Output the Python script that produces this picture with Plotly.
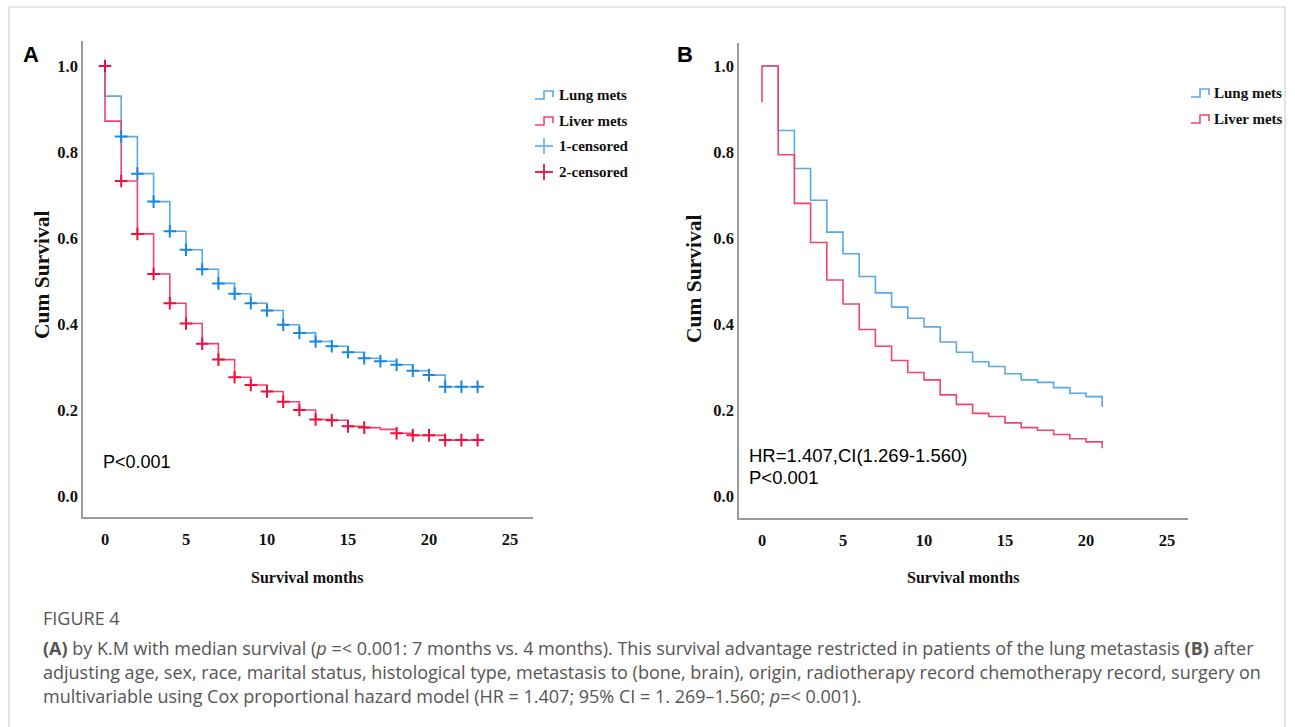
import plotly.graph_objects as go

W, H = 1295, 727

# ---------------- data ----------------
# Panel A (Kaplan-Meier): survival value after each month's events
A_months = list(range(0, 24))
A_lung = [0.930, 0.836, 0.750, 0.685, 0.616, 0.573, 0.528, 0.495, 0.471, 0.449,
          0.432, 0.399, 0.380, 0.360, 0.349, 0.335, 0.321, 0.314, 0.306, 0.292,
          0.282, 0.255, 0.255, 0.255]
A_liver = [0.872, 0.733, 0.610, 0.517, 0.449, 0.402, 0.355, 0.318, 0.277, 0.259,
           0.244, 0.220, 0.201, 0.179, 0.177, 0.163, 0.160, 0.156, 0.147, 0.142,
           0.142, 0.131, 0.131, 0.131]
A_start = 1.0
A_lung_censor = list(range(1, 24))
A_liver_censor = [m for m in range(0, 24) if m != 17]

# Panel B (Cox adjusted)
B_months = list(range(0, 22))
B_lung = [1.000, 0.850, 0.762, 0.688, 0.614, 0.564, 0.511, 0.473, 0.440, 0.414,
          0.394, 0.359, 0.335, 0.313, 0.302, 0.285, 0.271, 0.265, 0.253, 0.240,
          0.232, 0.208]
B_liver_start = 0.915
B_liver = [1.000, 0.794, 0.681, 0.590, 0.503, 0.447, 0.388, 0.349, 0.316, 0.288,
           0.271, 0.236, 0.214, 0.193, 0.186, 0.171, 0.160, 0.154, 0.144, 0.134,
           0.127, 0.112]

x_ticks = [0, 5, 10, 15, 20, 25]
y_ticks = [0.0, 0.2, 0.4, 0.6, 0.8, 1.0]
y_tick_text = ["0.0", "0.2", "0.4", "0.6", "0.8", "1.0"]

caption_lines = [
    "<b>(A)</b> by K.M with median survival (<i>p</i> =&lt; 0.001: 7 months vs. 4 months). This survival advantage restricted in patients of the lung metastasis <b>(B)</b> after",
    "adjusting age, sex, race, marital status, histological type, metastasis to (bone, brain), origin, radiotherapy record chemotherapy record, surgery on",
    "multivariable using Cox proportional hazard model (HR = 1.407; 95% CI = 1. 269–1.560; <i>p</i>=&lt; 0.001).",
]

# ---------------- styles ----------------
BLUE_LINE = "#59a8ea"
RED_LINE = "#f2446a"
BLUE_MARK = "#1b86e0"
RED_MARK = "#ee0f3c"
SERIF = "Liberation Serif"
SANS = "Liberation Sans"
CAP = "Open Sans"


def px(x):
    return x / W


def py(y):
    return 1 - y / H


fig = go.Figure()

# Panel A traces
fig.add_trace(go.Scatter(x=[0] + A_months, y=[A_start] + A_lung, mode="lines",
                         line=dict(color=BLUE_LINE, width=1.6, shape="hv"),
                         xaxis="x", yaxis="y", showlegend=False))
fig.add_trace(go.Scatter(x=[0] + A_months, y=[A_start] + A_liver, mode="lines",
                         line=dict(color=RED_LINE, width=1.6, shape="hv"),
                         xaxis="x", yaxis="y", showlegend=False))


def censor_vals(months, vals, start, times):
    out = []
    for t in times:
        out.append(start if t == 0 else vals[months.index(t)])
    return out


fig.add_trace(go.Scatter(x=A_lung_censor,
                         y=censor_vals(A_months, A_lung, A_start, A_lung_censor),
                         mode="markers",
                         marker=dict(symbol="cross-thin", size=9,
                                     line=dict(color=BLUE_MARK, width=2)),
                         xaxis="x", yaxis="y", showlegend=False))
fig.add_trace(go.Scatter(x=A_liver_censor,
                         y=censor_vals(A_months, A_liver, A_start, A_liver_censor),
                         mode="markers",
                         marker=dict(symbol="cross-thin", size=9,
                                     line=dict(color=RED_MARK, width=2)),
                         xaxis="x", yaxis="y", showlegend=False))

# Panel B traces
fig.add_trace(go.Scatter(x=B_months, y=B_lung, mode="lines",
                         line=dict(color=BLUE_LINE, width=1.6, shape="hv"),
                         xaxis="x2", yaxis="y2", showlegend=False))
fig.add_trace(go.Scatter(x=[0] + B_months, y=[B_liver_start] + B_liver, mode="lines",
                         line=dict(color=RED_LINE, width=1.6, shape="hv"),
                         xaxis="x2", yaxis="y2", showlegend=False))

# ---------------- axes ----------------
tickfont = dict(family=SERIF, size=16.5, color="#111", weight="bold")
common_x = dict(showgrid=False, zeroline=False, showline=True, linecolor="#9a9a9a",
                linewidth=1.5, ticks="", tickvals=x_ticks, tickfont=tickfont,
                ticklabelstandoff=6, fixedrange=True)
common_y = dict(showgrid=False, zeroline=False, showline=True, linecolor="#9a9a9a",
                linewidth=1.5, ticks="", tickvals=y_ticks, ticktext=y_tick_text,
                tickfont=tickfont, ticklabelstandoff=0, fixedrange=True)

# pixel geometry of the two plot frames
A_left, A_right, A_top, A_bot = 83, 533, 41, 517
B_left, B_right, B_top, B_bot = 739, 1188, 43, 518


def xrange(left, right, x0px, per):
    return [(left - x0px) / per, (right - x0px) / per]


def yrange(top, bot, y0px, per):
    return [(y0px - bot) / per, (y0px - top) / per]


fig.update_layout(
    xaxis=dict(domain=[px(A_left), px(A_right)], anchor="y",
               range=xrange(A_left, A_right, 105, 16.2), **common_x),
    yaxis=dict(domain=[py(A_bot), py(A_top)], anchor="x",
               range=yrange(A_top, A_bot, 496.5, 430.5), **common_y),
    xaxis2=dict(domain=[px(B_left), px(B_right)], anchor="y2",
                range=xrange(B_left, B_right, 762, 16.2), **common_x),
    yaxis2=dict(domain=[py(B_bot), py(B_top)], anchor="x2",
                range=yrange(B_top, B_bot, 496.5, 430.5), **common_y),
)

annotations = []


def text(x, y, s, size, family=SERIF, color="#111", xanchor="center", angle=0):
    annotations.append(dict(x=px(x), y=py(y), xref="paper", yref="paper", text=s,
                            showarrow=False, xanchor=xanchor, yanchor="middle",
                            textangle=angle, font=dict(family=family, size=size, color=color)))


# panel letters
text(31, 54, "<b>A</b>", 22, SANS, "#000")
text(685, 54, "<b>B</b>", 22, SANS, "#000")

# axis titles
text(42, 275, "<b>Cum Survival</b>", 21.5, angle=-90)
text(694, 279, "<b>Cum Survival</b>", 21.5, angle=-90)
text(307, 577, "<b>Survival months</b>", 16)
text(963, 577, "<b>Survival months</b>", 16)

# statistics text
text(101, 462, "P&lt;0.001", 18, SANS, "#000", xanchor="left")
text(747, 455, "HR=1.407,CI(1.269-1.560)", 18.5, SANS, "#000", xanchor="left")
text(747, 477, "P&lt;0.001", 18.5, SANS, "#000", xanchor="left")

# legends (text)
legA = [("Lung mets", 95), ("Liver mets", 121), ("1-censored", 146), ("2-censored", 172)]
for s, y in legA:
    text(557, y, "<b>" + s + "</b>", 15, xanchor="left")
legB = [("Lung mets", 93), ("Liver mets", 119)]
for s, y in legB:
    text(1212, y, "<b>" + s + "</b>", 15, xanchor="left")

# caption
text(41, 618, "FIGURE 4", 18, CAP, "#555555", xanchor="left")
for i, line in enumerate(caption_lines):
    text(41, 648 + 24 * i, line, 18, CAP, "#555555", xanchor="left")

shapes = []


def path(points, color, width=1.6):
    d = "M" + " L".join(f"{px(x):.5f},{py(y):.5f}" for x, y in points)
    shapes.append(dict(type="path", path=d, xref="paper", yref="paper",
                       line=dict(color=color, width=width)))


def step_icon(x0, yc, color):
    path([(x0, yc + 4), (x0 + 9, yc + 4), (x0 + 9, yc - 4), (x0 + 18, yc - 4),
          (x0 + 18, yc + 2)], color)


def cross_icon(x0, yc, color):
    path([(x0, yc), (x0 + 18, yc)], color, 1.8)
    path([(x0 + 9, yc - 8), (x0 + 9, yc + 8)], color, 1.8)


step_icon(535, 95, BLUE_LINE)
step_icon(535, 121, RED_LINE)
cross_icon(535, 146, "#6fb5ee")
cross_icon(535, 172, RED_MARK)
step_icon(1191, 93, BLUE_LINE)
step_icon(1191, 119, RED_LINE)

# outer figure frame
path([(9, 740), (9, 7), (1285, 7), (1285, 740)], "#d0d0d0", 1.2)

fig.update_layout(
    width=W, height=H, margin=dict(l=0, r=0, t=0, b=0),
    paper_bgcolor="white", plot_bgcolor="white",
    annotations=annotations, shapes=shapes, showlegend=False,
)

fig.write_html("out.html", config={"displayModeBar": False},
               post_script="document.body.style.margin='0';document.body.style.overflow='hidden';")
